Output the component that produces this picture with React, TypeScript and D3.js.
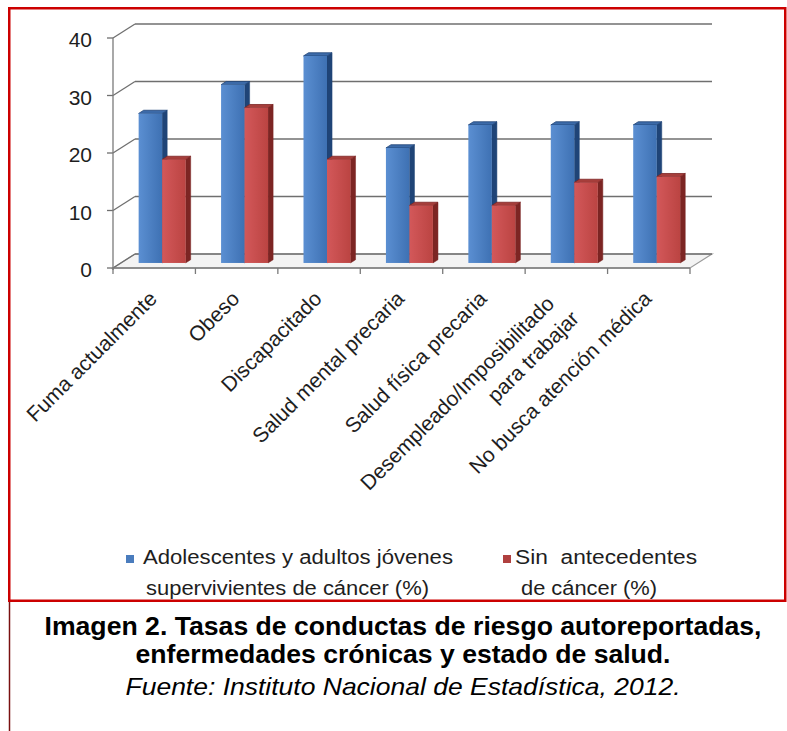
import React, { useRef, useEffect } from 'react';
import * as d3 from 'd3';

// categories (a "\n" splits a label over two lines)
const categories = [
  'Fuma actualmente',
  'Obeso',
  'Discapacitado',
  'Salud mental precaria',
  'Salud física precaria',
  'Desempleado/Imposibilitado\npara trabajar',
  'No busca atención médica',
];
const survivorValues = [26, 31, 36, 20, 24, 24, 24];
const noHistoryValues = [18, 27, 18, 10, 10, 14, 15];
const yTickValues = [0, 10, 20, 30, 40];
const seriesLabels = [
  'Adolescentes y adultos jóvenes\nsupervivientes de cáncer (%)',
  'Sin  antecedentes\nde cáncer (%)',
];
const captionLines = [
  'Imagen 2. Tasas de conductas de riesgo autoreportadas,',
  'enfermedades crónicas y estado de salud.',
  'Fuente: Instituto Nacional de Estadística, 2012.',
];

const FONT = '"Liberation Sans", Arial, sans-serif';

const Chart = () => {
  const ref = useRef<SVGSVGElement | null>(null);

  useEffect(() => {
    const svg = d3.select(ref.current);
    svg.selectAll('*').remove();

    const left = 113;
    const right = 690;
    const base = 268;
    const top = 38;
    const DX = 22; // depth offset of the back wall
    const DY = 14;
    const z0 = 0.36; // bar front depth
    const z1 = 0.59; // bar back depth

    const x = d3
      .scaleBand()
      .domain(categories)
      .range([left, right])
      .paddingInner(0.43)
      .paddingOuter(0.215);
    const xs = d3.scaleBand().domain(['s', 'n']).range([0, x.bandwidth()]);
    const y = d3.scaleLinear().domain([0, 40]).range([base, top]);

    const defs = svg.append('defs');
    const grad = (id, c1, c2) => {
      const g = defs.append('linearGradient').attr('id', id).attr('x1', '0').attr('x2', '1').attr('y1', '0').attr('y2', '0');
      g.append('stop').attr('offset', '0%').attr('stop-color', c1);
      g.append('stop').attr('offset', '100%').attr('stop-color', c2);
    };
    grad('gBlue', '#5b8fd2', '#3e71b3');
    grad('gRed', '#d3585a', '#bb4442');

    // red frame
    svg.append('rect')
      .attr('x', 9.25).attr('y', 8.25).attr('width', 776).attr('height', 592.5)
      .attr('fill', '#fff').attr('stroke', '#cc0000').attr('stroke-width', 2.5);
    svg.append('line')
      .attr('x1', 9.5).attr('x2', 9.5).attr('y1', 602).attr('y2', 731)
      .attr('stroke', '#7a1010').attr('stroke-width', 1.5);

    const g = svg.append('g');

    // floor
    g.append('path')
      .attr('d', `M${left},${base}L${left + DX},${base - DY}L${right + DX},${base - DY}L${right},${base}Z`)
      .attr('fill', '#f3f3f3').attr('stroke', '#9a9a9a').attr('stroke-width', 1.2);

    // gridlines on back wall + diagonal ticks
    yTickValues.forEach((v) => {
      const yy = y(v);
      g.append('line')
        .attr('x1', left + DX).attr('x2', right + DX)
        .attr('y1', yy - DY).attr('y2', yy - DY)
        .attr('stroke', '#6f6f6f').attr('stroke-width', 1.4);
      g.append('line')
        .attr('x1', left).attr('x2', left + DX)
        .attr('y1', yy).attr('y2', yy - DY)
        .attr('stroke', '#6f6f6f').attr('stroke-width', 1.3);
      g.append('line')
        .attr('x1', left - 6).attr('x2', left)
        .attr('y1', yy).attr('y2', yy)
        .attr('stroke', '#6f6f6f').attr('stroke-width', 1.3);
      g.append('text')
        .attr('x', 92).attr('y', yy + 2)
        .attr('dy', '0.35em')
        .attr('text-anchor', 'end')
        .attr('font-family', FONT).attr('font-size', 21)
        .attr('fill', '#1e1e1e')
        .text(v);
    });

    // y axis front line
    g.append('line')
      .attr('x1', left).attr('x2', left)
      .attr('y1', y(40)).attr('y2', base + 2)
      .attr('stroke', '#7a7a7a').attr('stroke-width', 1.3);

    // x axis line + ticks
    g.append('line')
      .attr('x1', left).attr('x2', right)
      .attr('y1', base).attr('y2', base)
      .attr('stroke', '#7a7a7a').attr('stroke-width', 1.5);
    d3.range(categories.length + 1).forEach((i) => {
      const tx = left + i * x.step();
      g.append('line')
        .attr('x1', tx).attr('x2', tx)
        .attr('y1', base).attr('y2', base + 6)
        .attr('stroke', '#7a7a7a').attr('stroke-width', 1.3);
    });

    // 3D bars
    const drawBar = (xf, w, v, front, side, topc) => {
      const [fx, fy] = [xf + DX * z0, y(v) - DY * z0];
      const by = base - DY * z0;
      const ddx = DX * (z1 - z0);
      const ddy = DY * (z1 - z0);
      g.append('path')
        .attr('d', `M${fx + w},${fy}L${fx + w + ddx},${fy - ddy}L${fx + w + ddx},${by - ddy}L${fx + w},${by}Z`)
        .attr('fill', side).attr('stroke', side).attr('stroke-width', 0.5);
      g.append('path')
        .attr('d', `M${fx},${fy}L${fx + ddx},${fy - ddy}L${fx + w + ddx},${fy - ddy}L${fx + w},${fy}Z`)
        .attr('fill', topc).attr('stroke', side).attr('stroke-width', 0.8);
      g.append('rect')
        .attr('x', fx).attr('y', fy).attr('width', w).attr('height', by - fy)
        .attr('fill', front);
    };

    categories.forEach((c, i) => {
      const bx = x(c);
      drawBar(bx + xs('s'), xs.bandwidth(), survivorValues[i], 'url(#gBlue)', '#1f4477', '#3c6aa8');
      drawBar(bx + xs('n'), xs.bandwidth(), noHistoryValues[i], 'url(#gRed)', '#7c2523', '#a63e3b');
    });

    // rotated category labels
    categories.forEach((c) => {
      const cx = x(c) + x.bandwidth() / 2;
      const lines = c.split('\n');
      const offsets = lines.length === 1 ? [[0, 0]] : [[-14, -7], [-7, 21]];
      const t = g.append('g').attr('transform', `translate(${cx + 4},${300}) rotate(-45)`);
      lines.forEach((ln, k) => {
        t.append('text')
          .attr('x', offsets[k][0]).attr('y', offsets[k][1])
          .attr('text-anchor', 'end')
          .attr('font-family', FONT).attr('font-size', 21)
          .attr('fill', '#1e1e1e')
          .text(ln);
      });
    });

    // legend
    const legendPos = [
      { sx: 126, tx: 143, tx2: 146, color: '#4a7cbd', widths: [310, 283] },
      { sx: 503, tx: 515, tx2: 521, color: '#b0403f', widths: [182, 136] },
    ];
    seriesLabels.forEach((lab, i) => {
      const lp = legendPos[i];
      g.append('rect')
        .attr('x', lp.sx).attr('y', 555).attr('width', 8).attr('height', 8)
        .attr('fill', lp.color);
      lab.split('\n').forEach((ln, k) => {
        g.append('text')
          .attr('x', k === 0 ? lp.tx : lp.tx2).attr('y', 564 + k * 31)
          .attr('font-family', FONT).attr('font-size', 20)
          .attr('fill', '#1e1e1e')
          .attr('textLength', lp.widths[k]).attr('lengthAdjust', 'spacingAndGlyphs')
          .style('white-space', 'pre')
          .text(ln);
      });
    });

    // caption
    const capStyle = [
      { y: 635, size: 25.5, weight: 'bold', style: 'normal', w: 717 },
      { y: 663, size: 25.5, weight: 'bold', style: 'normal', w: 535 },
      { y: 695, size: 24, weight: 'normal', style: 'italic', w: 555 },
    ];
    captionLines.forEach((ln, k) => {
      const s = capStyle[k];
      svg.append('text')
        .attr('x', 403).attr('y', s.y)
        .attr('text-anchor', 'middle')
        .attr('font-family', FONT).attr('font-size', s.size)
        .attr('font-weight', s.weight).attr('font-style', s.style)
        .attr('fill', '#000')
        .attr('textLength', s.w).attr('lengthAdjust', 'spacingAndGlyphs')
        .text(ln);
    });
  }, []);

  return <svg ref={ref} width={787} height={731} style={{ position: 'absolute', left: 0, top: 0 }} />;
};

export default function App() {
  return <Chart />;
}
